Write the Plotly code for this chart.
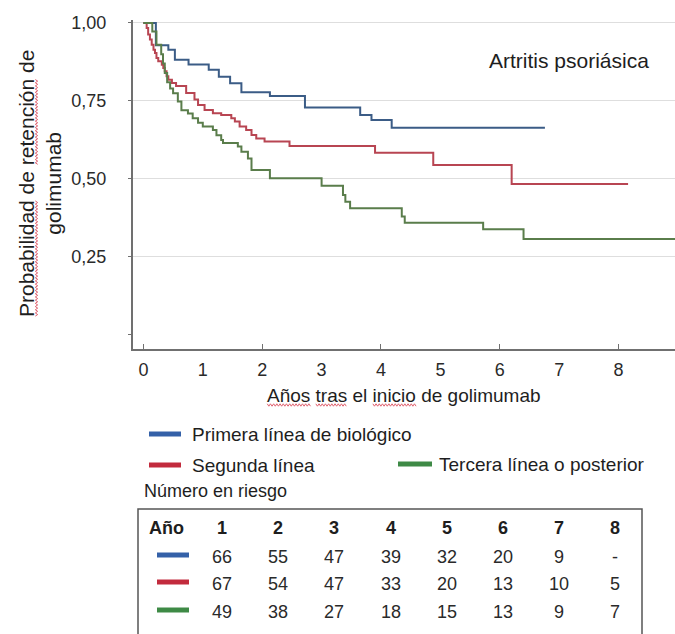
import plotly.graph_objects as go

# Kaplan-Meier retention estimates (time in years, survival after each step)
primera_t = [0, 0.21, 0.42, 0.53, 0.76, 1.10, 1.27, 1.46, 1.65, 2.13, 2.72, 3.65, 3.84, 4.18, 6.76]
primera_s = [1.0, 0.929, 0.914, 0.882, 0.867, 0.850, 0.828, 0.807, 0.778, 0.766, 0.729, 0.705, 0.689, 0.664, 0.664]

segunda_t = [0, 0.055, 0.08, 0.11, 0.14, 0.17, 0.195, 0.22, 0.25, 0.31, 0.335, 0.36, 0.39, 0.42, 0.48,
             0.55, 0.72, 0.86, 0.92, 1.03, 1.17, 1.31, 1.48, 1.54, 1.62, 1.73, 1.82, 1.90, 2.04, 2.46,
             3.90, 4.88, 6.20, 8.16]
segunda_s = [1.0, 0.984, 0.963, 0.947, 0.930, 0.914, 0.904, 0.888, 0.877, 0.866, 0.856, 0.845, 0.829, 0.818, 0.808,
             0.798, 0.776, 0.755, 0.737, 0.721, 0.711, 0.705, 0.695, 0.684, 0.668, 0.657, 0.641, 0.630, 0.620, 0.606,
             0.584, 0.545, 0.484, 0.484]

tercera_t = [0, 0.15, 0.22, 0.30, 0.33, 0.36, 0.40, 0.45, 0.50, 0.58, 0.64, 0.75, 0.83, 0.92, 1.00,
             1.17, 1.23, 1.31, 1.34, 1.59, 1.65, 1.76, 1.82, 2.13, 3.00, 3.36, 3.40, 3.48, 4.35, 4.40,
             5.72, 6.40, 8.95]
tercera_s = [1.0, 0.973, 0.930, 0.900, 0.870, 0.840, 0.810, 0.790, 0.775, 0.748, 0.720, 0.710, 0.695, 0.680, 0.668,
             0.657, 0.640, 0.625, 0.615, 0.604, 0.587, 0.566, 0.529, 0.502, 0.478, 0.449, 0.427, 0.406, 0.380, 0.360,
             0.339, 0.308, 0.308]

series_names = ["Primera línea de biológico", "Segunda línea", "Tercera línea o posterior"]

# Axis ticks
x_ticks = [0, 1, 2, 3, 4, 5, 6, 7, 8]
y_ticks = [0.25, 0.50, 0.75, 1.00]
y_ticktext = ["0,25", "0,50", "0,75", "1,00"]

# Number at risk table
risk_years = ["1", "2", "3", "4", "5", "6", "7", "8"]
risk_primera = ["66", "55", "47", "39", "32", "20", "9", "-"]
risk_segunda = ["67", "54", "47", "33", "20", "13", "10", "5"]
risk_tercera = ["49", "38", "27", "18", "15", "13", "9", "7"]

W, H = 675, 634
ML, MR, MT, MB = 133, 0, 20, 285
PW, PH = W - ML - MR, H - MT - MB

def xp(px):
    return (px - ML) / PW

def yp(py):
    return (H - MB - py) / PH

curve_colors = ["#3b5c86", "#b84552", "#5a7d4b"]
key_colors = ["#3461a8", "#c22b3d", "#3e8a46"]
text_color = "#1e1e1e"
FONT = "Liberation Sans, Arial, sans-serif"

fig = go.Figure()
for t, s, name, c in zip([primera_t, segunda_t, tercera_t],
                         [primera_s, segunda_s, tercera_s],
                         series_names, curve_colors):
    fig.add_trace(go.Scatter(x=t, y=s, mode="lines", name=name,
                             line=dict(color=c, width=2, shape="hv"),
                             showlegend=False, hoverinfo="skip"))

# helper trace so the overlay axis carrying the even-year tick marks is drawn
fig.add_trace(go.Scatter(x=[None], y=[None], xaxis="x2", showlegend=False, hoverinfo="skip"))

x_range = [-0.175, 8.95]
y_range = [-0.045, 1.0096]

fig.update_layout(
    width=W, height=H,
    margin=dict(l=ML, r=MR, t=MT, b=MB, pad=0),
    paper_bgcolor="white", plot_bgcolor="white",
    font=dict(family=FONT, color=text_color),
    xaxis=dict(range=x_range, tickvals=x_ticks, ticktext=[str(v) for v in x_ticks],
               ticks="", showgrid=False, zeroline=False,
               showline=True, linecolor="#707070", linewidth=2,
               tickfont=dict(size=18, color="#2a2a2a"), ticklabelstandoff=3),
    xaxis2=dict(range=x_range, overlaying="x", anchor="y", tickvals=[0, 2, 4, 6, 8],
                ticks="inside", ticklen=5, tickwidth=1, tickcolor="#707070",
                showticklabels=False, showgrid=False, zeroline=False, showline=False),
    yaxis=dict(range=y_range, tickvals=y_ticks, ticktext=y_ticktext,
               ticks="outside", ticklen=3, tickwidth=1, tickcolor="#707070",
               showgrid=True, gridcolor="#dedede", gridwidth=1, zeroline=False,
               showline=True, linecolor="#707070", linewidth=2,
               minor=dict(tickvals=[0], ticks="outside", ticklen=3, tickcolor="#707070", showgrid=False),
               tickfont=dict(size=18, color="#2a2a2a"), ticklabelstandoff=18),
)

ann = []
# panel label
ann.append(dict(text="Artritis psoriásica", x=xp(651), y=yp(60), xanchor="right", yanchor="middle",
                font=dict(size=21, color=text_color)))
# axis titles
XT_SIZE, YT_SIZE = 19, 21
ann.append(dict(text="Años tras el inicio de golimumab", x=xp(404), y=yp(395),
                xanchor="center", yanchor="middle", font=dict(size=XT_SIZE, color=text_color)))
ann.append(dict(text="Probabilidad de retención de<br>golimumab", x=xp(40), y=yp(184),
                xanchor="center", yanchor="middle", textangle=-90,
                font=dict(size=YT_SIZE, color=text_color)))

shapes = []

# spell-check style wavy underlines under some title words
ARIAL = {" ": .278, "A": .667, "P": .667, "a": .556, "b": .556, "c": .5, "d": .556, "e": .556,
         "g": .556, "i": .222, "l": .222, "m": .833, "n": .556, "o": .556, "r": .333, "s": .5,
         "t": .278, "u": .556, "ñ": .556, "ó": .556}

def text_w(s, size):
    return sum(ARIAL.get(ch, .556) for ch in s) * size

def word_span(line, word, size, start):
    i = line.index(word)
    a = start + text_w(line[:i], size)
    return a, a + text_w(word, size)

def wavy(a, b, pos, vertical=False, amp=1.2, step=1.6):
    pts, k, u = [], 0, a
    while u <= b:
        off = amp if k % 2 else -amp
        if vertical:
            pts.append((xp(pos + off), yp(u)))
        else:
            pts.append((xp(u), yp(pos + off)))
        u += step
        k += 1
    path = "M " + " L ".join(f"{x:.5f},{y:.5f}" for x, y in pts)
    return dict(type="path", xref="paper", yref="paper", path=path,
                line=dict(color="#e0606e", width=1))

xtitle = "Años tras el inicio de golimumab"
x0 = 404 - text_w(xtitle, XT_SIZE) / 2
for w in ["Años", "tras", "inicio"]:
    a, b = word_span(xtitle, w, XT_SIZE, x0)
    shapes.append(wavy(a, b, 405))

ytitle = "Probabilidad de retención de"
ybottom = 184 + text_w(ytitle, YT_SIZE) / 2
for w in ["Probabilidad", "retención"]:
    a, b = word_span(ytitle, w, YT_SIZE, 0)
    shapes.append(wavy(ybottom - b, ybottom - a, 36.5, vertical=True))

# legend keys
legend_rows = [(149, 181, 434, 190), (149, 181, 465, 190), (398, 432, 464, 437)]
for (lx0, lx1, yy, tx), name, c in zip(legend_rows, series_names, key_colors):
    shapes.append(dict(type="line", xref="paper", yref="paper", x0=xp(lx0), x1=xp(lx1),
                       y0=yp(yy), y1=yp(yy), line=dict(color=c, width=5)))
    ann.append(dict(text=name, x=xp(tx), y=yp(yy), xanchor="left", yanchor="middle",
                    font=dict(size=19, color=text_color)))

ann.append(dict(text="Número en riesgo", x=xp(142), y=yp(491), xanchor="left", yanchor="middle",
                font=dict(size=18, color=text_color)))

# at-risk table
shapes.append(dict(type="rect", xref="paper", yref="paper", x0=xp(138), x1=xp(642),
                   y0=yp(660), y1=yp(509), line=dict(color="#555555", width=1.5)))
col_x = [222 + 56.2 * i for i in range(len(risk_years))]
row_y = [528, 557, 584, 612]
ann.append(dict(text="<b>Año</b>", x=xp(166), y=yp(row_y[0]), xanchor="center", yanchor="middle",
                font=dict(size=18, color=text_color)))
for cx, lab in zip(col_x, risk_years):
    ann.append(dict(text=f"<b>{lab}</b>", x=xp(cx), y=yp(row_y[0]), xanchor="center", yanchor="middle",
                    font=dict(size=18, color=text_color)))
for ry, row, c in zip(row_y[1:], [risk_primera, risk_segunda, risk_tercera], key_colors):
    shapes.append(dict(type="line", xref="paper", yref="paper", x0=xp(157), x1=xp(189),
                       y0=yp(ry - 2), y1=yp(ry - 2), line=dict(color=c, width=5)))
    for cx, v in zip(col_x, row):
        ann.append(dict(text=v, x=xp(cx), y=yp(ry), xanchor="center", yanchor="middle",
                        font=dict(size=18, color="#2a2a2a")))

for a in ann:
    a.setdefault("xref", "paper")
    a.setdefault("yref", "paper")
    a["showarrow"] = False

fig.update_layout(annotations=ann, shapes=shapes)
fig.write_html("out.html")
